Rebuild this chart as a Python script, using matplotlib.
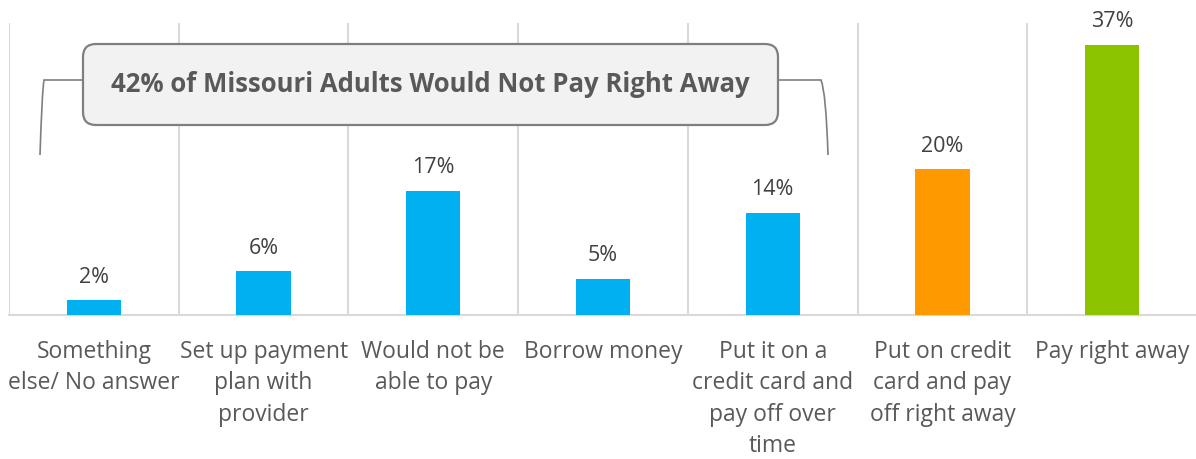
import matplotlib.pyplot as plt
import numpy as np
from matplotlib.patches import FancyBboxPatch
from matplotlib.path import Path
from matplotlib.patches import PathPatch

plt.rcParams['font.family'] = ['Open Sans', 'DejaVu Sans']

categories = ['Something\nelse/ No answer', 'Set up payment\nplan with\nprovider',
              'Would not be\nable to pay', 'Borrow money',
              'Put it on a\ncredit card and\npay off over\ntime',
              'Put on credit\ncard and pay\noff right away', 'Pay right away']
values = [2, 6, 17, 5, 14, 20, 37]
colors = ['#00B0F0'] * 5 + ['#FF9900', '#8DC400']
callout = '42% of Missouri Adults Would Not Pay Right Away'

W, H = 1196, 459
fig = plt.figure(figsize=(W / 100, H / 100), dpi=100)
ax = fig.add_axes([9 / W, (H - 315) / H, (1197 - 9) / W, (315 - 23) / H])

x = np.arange(len(values))
ax.bar(x, values, width=0.32, color=colors, zorder=3)
ax.set_xlim(-0.5, len(values) - 0.5)
ax.set_ylim(0, 40)

for xi, v in zip(x, values):
    ax.annotate(f'{v}%', (xi, v), xytext=(0, 9), textcoords='offset points',
                ha='center', va='bottom', fontsize=15.5, color='#404040')

# separators between categories
for b in np.arange(-0.5, len(values) - 0.5, 1.0):
    ax.axvline(b, color='#D9D9D9', lw=1.5, zorder=1)

for s in ['top', 'right', 'left']:
    ax.spines[s].set_visible(False)
ax.spines['bottom'].set_color('#D9D9D9')
ax.spines['bottom'].set_linewidth(1.5)
ax.set_yticks([])
ax.set_xticks(x)
ax.set_xticklabels(categories, fontsize=16.5, color='#595959', linespacing=1.41, va='top')
ax.tick_params(axis='x', length=0, pad=18)

# overlay in pixel units for the callout
ov = fig.add_axes([0, 0, 1, 1], facecolor='none')
ov.set_xlim(0, W)
ov.set_ylim(H, 0)
ov.axis('off')

box = FancyBboxPatch((83, 44), 778 - 83, 125 - 44, boxstyle='round,pad=0,rounding_size=13',
                     facecolor='#F2F2F2', edgecolor='#7F7F7F', lw=1.6, zorder=5)
ov.add_patch(box)
ov.text((83 + 778) / 2, 85, callout, ha='center', va='center', fontsize=18.5,
        fontweight='bold', color='#595959', zorder=6)

left = Path([(83, 80), (44, 80), (42, 92), (40, 155)],
            [Path.MOVETO, Path.LINETO, Path.CURVE3, Path.LINETO])
right = Path([(778, 80), (821, 80), (826, 92), (828, 155)],
             [Path.MOVETO, Path.LINETO, Path.CURVE3, Path.LINETO])
for p in (left, right):
    ov.add_patch(PathPatch(p, facecolor='none', edgecolor='#7F7F7F', lw=1.2, zorder=4))

fig.savefig('out.png', dpi=100)
